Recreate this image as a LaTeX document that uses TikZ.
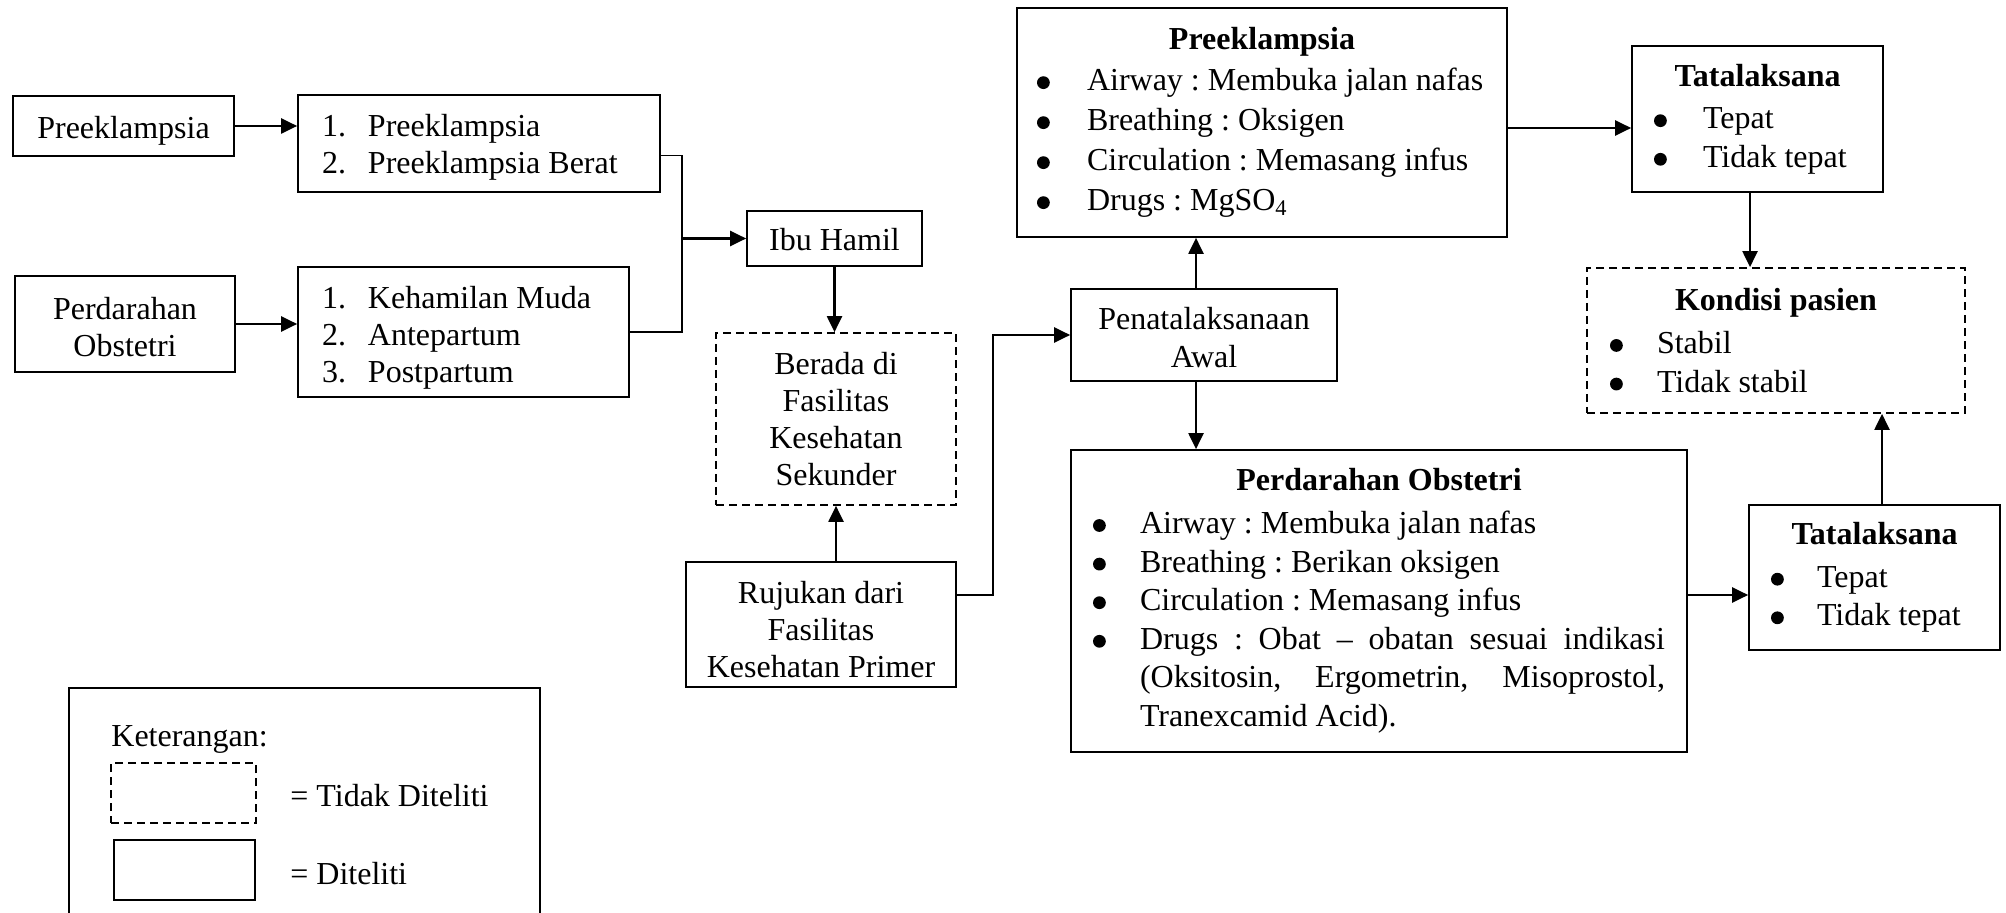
\documentclass[tikz,border=0pt]{standalone}
\usepackage{fontspec}
\setmainfont{Liberation Serif}
\usetikzlibrary{arrows.meta,calc}
\newcommand{\nb}[1]{\makebox[23pt][l]{#1}}
\newcommand{\bdot}{\tikz[baseline=0pt]\fill (3.2pt,4pt) circle (3.2pt);}
\newcommand{\bitem}[2]{\par\noindent\hangindent=#1\hangafter=1\makebox[#1][l]{\bdot}#2}
\newcommand{\bitemx}[2]{\par\noindent\makebox[#1][l]{\bdot}\mbox{#2}}
\newcommand{\ttl}[2]{\centerline{\textbf{#1}}\vspace{#2}}
\newcommand{\up}[1]{\rule{0pt}{#1}}
\tikzset{
 txt/.style={font=\fontsize{16}{18.6}\selectfont\frenchspacing},
 btxt/.style={font=\fontsize{16}{19.3}\selectfont\frenchspacing},
 ptxt/.style={font=\fontsize{16}{20}\selectfont\frenchspacing},
 box/.style={draw, line width=0.85pt, inner sep=0pt, align=flush center, txt},
 dbox/.style={box, dash pattern=on 4pt off 2.5pt},
 arr/.style={line width=1.1pt, -{Triangle[length=8pt,width=7.5pt]}},
 ln/.style={line width=0.9pt},
}
\begin{document}
\begin{tikzpicture}[x=0.5pt,y=-0.5pt]
\useasboundingbox (0,0) rectangle (2006,913);
% left column
\node[box, minimum width=110.5pt, minimum height=30pt, text width=110.5pt] (pre) at (123.5,126) {\up{16pt}Preeklampsia};
\node[box, minimum width=110pt, minimum height=48pt, text width=110pt] (perd) at (125,324) {\up{14.2pt}Perdarahan\\Obstetri};
\node[box, minimum width=181pt, minimum height=48.5pt, text width=157pt, align=flush left] (list1) at (479,143.5) {\up{14.8pt}\nb{1.}Preeklampsia\\\nb{2.}Preeklampsia Berat};
\node[box, minimum width=165.5pt, minimum height=65pt, text width=141.5pt, align=flush left] (list2) at (463.5,332) {\up{16.8pt}\nb{1.}Kehamilan Muda\\\nb{2.}Antepartum\\\nb{3.}Postpartum};
% middle
\node[box, minimum width=87.5pt, minimum height=27.5pt, text width=87.5pt] (ibu) at (834.5,238.5) {\up{12pt}Ibu Hamil};
\node[dbox, minimum width=120pt, minimum height=86pt, text width=120pt] (berada) at (836,419) {Berada di\\Fasilitas\\Kesehatan\\Sekunder};
\node[box, minimum width=135pt, minimum height=62.5pt, text width=135pt] (rujukan) at (821,624.5) {\up{16pt}Rujukan dari\\Fasilitas\\Kesehatan Primer};
\node[box, minimum width=133pt, minimum height=46pt, text width=133pt] (penat) at (1204,335) {\up{13.6pt}Penatalaksanaan\\Awal};
% big boxes
\node[box, ptxt, minimum width=245pt, minimum height=114.5pt, text width=225pt, align=flush left] (preek) at (1262,122.5) {\ttl{Preeklampsia}{0.5pt}\bitemx{25pt}{Airway : Membuka jalan nafas}\bitemx{25pt}{Breathing : Oksigen}\bitemx{25pt}{Circulation : Memasang infus}\bitemx{25pt}{Drugs : MgSO\textsubscript{4}}\par};
\node[box, btxt, minimum width=308pt, minimum height=151pt, text width=286pt, align=justify] (perdbig) at (1379,601) {\ttl{Perdarahan Obstetri}{2pt}\bitem{23.5pt}{Airway : Membuka jalan nafas}\bitem{23.5pt}{Breathing : Berikan oksigen}\bitem{23.5pt}{Circulation : Memasang infus}\bitem{23.5pt}{Drugs : Obat -- obatan sesuai indikasi\linebreak (Oksitosin, Ergometrin, Misoprostol,\linebreak Tranexcamid Acid).}\par};
% right
\node[box, btxt, minimum width=125.5pt, minimum height=73pt, text width=103.5pt, align=flush left] (tat1) at (1757.5,119) {\ttl{Tatalaksana}{2pt}\bitemx{24.5pt}{Tepat}\bitemx{24.5pt}{Tidak tepat}\par};
\node[dbox, btxt, minimum width=189pt, minimum height=72.5pt, text width=166pt, align=flush left] (kondisi) at (1776,340.5) {\ttl{Kondisi pasien}{2pt}\bitemx{23.5pt}{Stabil}\bitemx{23.5pt}{Tidak stabil}\par};
\node[box, btxt, minimum width=125.5pt, minimum height=72.5pt, text width=103.5pt, align=flush left] (tat2) at (1874.5,577.5) {\ttl{Tatalaksana}{2pt}\bitemx{23pt}{Tepat}\bitemx{23pt}{Tidak tepat}\par};
% connectors
\draw[arr] (pre.east) -- (pre.east -| list1.west);
\draw[arr] (perd.east) -- (perd.east -| list2.west);
\coordinate (jl) at (682,238.5);
\draw[ln] ([yshift=-6pt]list1.east) -| (jl);
\draw[ln] (list2.east) -| (jl);
\draw[arr] (jl) -- (ibu.west);
\draw[arr] (ibu.south) -- (ibu.south |- berada.north);
\draw[arr] (rujukan.north -| berada.south) -- (berada.south);
\draw[arr] ([yshift=14.75pt]rujukan.east) -- ++(18pt,0) |- (penat.west);
\draw[arr] ([xshift=-4pt]penat.north) -- ([xshift=-4pt]penat.north |- preek.south);
\draw[arr] ([xshift=-4pt]penat.south) -- ([xshift=-4pt]penat.south |- perdbig.north);
\draw[arr] ([yshift=-2.75pt]preek.east) -- ([yshift=-2.75pt]preek.east -| tat1.west);
\draw[arr] ([xshift=-3.75pt]tat1.south) -- ([xshift=-3.75pt]tat1.south |- kondisi.north);
\draw[arr] ([yshift=3pt]perdbig.east) -- ([yshift=3pt]perdbig.east -| tat2.west);
\draw[arr] ([xshift=3.75pt]tat2.north) -- ([xshift=3.75pt]tat2.north |- kondisi.south);
% legend
\begin{scope}
\clip (0,0) rectangle (2006,913);
\draw[ln] (69,688) rectangle (540,960);
\end{scope}
\node[anchor=west, inner sep=0pt, txt] (ket) at (111,739) {Keterangan:};
\node[dbox, minimum width=72.5pt, minimum height=30pt] (ld) at (183.5,793) {};
\node[box, minimum width=70.5pt, minimum height=30pt] (ls) at (184.5,870) {};
\node[anchor=west, inner sep=0pt, txt] (lt1) at (290,796) {= Tidak Diteliti};
\node[anchor=west, inner sep=0pt, txt] (lt2) at (290,874) {= Diteliti};
\end{tikzpicture}
\end{document}
